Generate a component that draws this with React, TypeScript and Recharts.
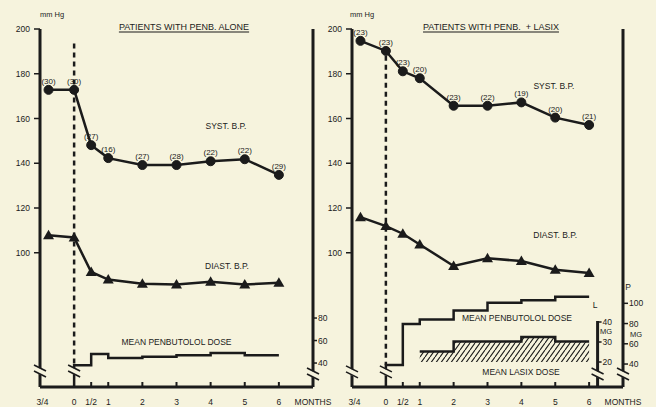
import {
  Area,
  ComposedChart,
  LabelList,
  Line,
  ReferenceDot,
  ReferenceLine,
  XAxis,
  YAxis,
} from "recharts";

const INK = "#1b1b1b";
const BG = "#f6f3dd";
const FONT = '"Liberation Sans", Arial, sans-serif';

// months; the first visit is the 3/4 month run-in before treatment
const VISITS = [-0.75, 0, 0.5, 1, 2, 3, 4, 5, 6];
const MONTH_TICKS = [-0.75, 0, 0.5, 1, 2, 3, 4, 5, 6, 7];
const BP_TICKS = [100, 120, 140, 160, 180, 200];

// penbutolol alone
const ALONE_SYST = [172.8, 172.8, 148.1, 142.3, 139.2, 139.2, 140.9, 141.8, 134.8];
const ALONE_N = [30, 30, 27, 16, 27, 28, 22, 22, 29];
const ALONE_DIAST = [107.8, 106.8, 91.4, 88, 86.1, 85.8, 87, 85.8, 86.6];
const ALONE_DOSE_MONTHS = [0, 0.5, 1, 2, 3, 4, 5, 6];
const ALONE_DOSE = [38, 48, 44.5, 45.5, 47, 49, 47, 47];

// penbutolol + lasix
const LASIX_SYST = [194.7, 190.2, 181.1, 178, 165.7, 165.7, 167.2, 160.4, 157.1];
const LASIX_N = [23, 23, 23, 20, 23, 22, 19, 20, 21];
const LASIX_DIAST = [115.9, 111.9, 108.5, 103.7, 94.1, 97.5, 96.3, 92.4, 91];
const PENB_DOSE_MONTHS = [0, 0.5, 1, 2, 3, 4, 5, 6];
const PENB_DOSE = [39, 79.6, 84, 93, 100.5, 103, 106.5, 106.5];
const LASIX_DOSE_MONTHS = [1, 2, 3, 4, 5, 6];
const LASIX_DOSE = [25.3, 30.3, 30.3, 32.5, 30.2, 30.2];

// axis scales (the dose axes are drawn in the lower part of each panel)
const BP_DOMAIN = [40, 200];
const ALONE_DOSE_DOMAIN = [18.7, 336.9];
const PENB_DOSE_DOMAIN = [17.3, 371.1];
const LASIX_DOSE_DOMAIN = [7.5, 186.5];
const LASIX_AXIS_MONTH = 6.25;

function monthLabel(v: number) {
  if (v === -0.75) return "3/4";
  if (v === 0.5) return "1/2";
  if (v === 7) return "MONTHS";
  return String(v);
}

function MonthTick({ x, y, payload }: any) {
  const v = payload.value as number;
  const dx = v === -0.75 ? -6 : 0;
  return (
    <g>
      {v > 0 && v <= 6 ? (
        <line x1={x} y1={y} x2={x} y2={y - 5} stroke={INK} strokeWidth={2} />
      ) : null}
      <text x={x + dx} y={y + 18} textAnchor="middle" fontSize={8.5} fill={INK}>
        {monthLabel(v)}
      </text>
    </g>
  );
}

function BreakMark({ cx, cy }: any) {
  if (cx == null || cy == null) return <g />;
  return (
    <g>
      <polygon
        points={`${cx - 7},${cy - 7} ${cx + 7},${cy} ${cx + 7},${cy + 6} ${cx - 7},${cy - 1}`}
        fill={BG}
      />
      <line x1={cx - 6} y1={cy - 7} x2={cx + 6} y2={cy - 1} stroke={INK} strokeWidth={1.6} />
      <line x1={cx - 6} y1={cy - 1} x2={cx + 6} y2={cy + 5} stroke={INK} strokeWidth={1.6} />
    </g>
  );
}

function Triangle({ cx, cy, index }: any) {
  if (cx == null || cy == null) return <g key={index} />;
  return (
    <path
      key={index}
      d={`M${cx},${cy - 5.5} L${cx + 5.5},${cy + 4} L${cx - 5.5},${cy + 4} Z`}
      fill={INK}
    />
  );
}

function note(text: string, size = 8.5) {
  return ({ cx, cy }: any) =>
    cx == null ? (
      <g />
    ) : (
      <text x={cx} y={cy + 3} textAnchor="middle" fontSize={size} fill={INK}>
        {text}
      </text>
    );
}

function lasixTick(value: number) {
  return ({ cx, cy }: any) =>
    cx == null ? (
      <g />
    ) : (
      <g>
        <line x1={cx} y1={cy} x2={cx + 4} y2={cy} stroke={INK} strokeWidth={1.5} />
        <text x={cx + 5} y={cy + 3} fontSize={8.5} fill={INK}>
          {value}
        </text>
      </g>
    );
}

const bpRows = (syst: number[], diast: number[], n: number[]) =>
  VISITS.map((m, i) => ({ m, syst: syst[i], diast: diast[i], n: n[i] }));

const stepRows = (months: number[], values: number[], floor: number) => [
  { m: months[0], v: floor },
  ...months.map((m, i) => ({ m, v: values[i] })),
];

const AXIS_LINE = { stroke: INK, strokeWidth: 3 };
const TICK_LINE = { stroke: INK, strokeWidth: 1.5 };
const TICK_TEXT = { fontSize: 8.5, fill: INK };

function AloneChart() {
  const rows = bpRows(ALONE_SYST, ALONE_DIAST, ALONE_N);
  const dose = stepRows(ALONE_DOSE_MONTHS, ALONE_DOSE, ALONE_DOSE_DOMAIN[0]);
  return (
    <ComposedChart width={340} height={407} margin={{ top: 29, right: 0, bottom: 0, left: 0 }}>
      <XAxis
        type="number"
        dataKey="m"
        domain={[-1, 7]}
        ticks={MONTH_TICKS}
        allowDataOverflow
        height={20}
        axisLine={AXIS_LINE}
        tickLine={false}
        tickSize={0}
        tickMargin={0}
        tick={<MonthTick />}
        interval={0}
      />
      <YAxis
        yAxisId="bp"
        domain={BP_DOMAIN}
        ticks={BP_TICKS}
        allowDataOverflow
        width={40}
        tickSize={6}
        tickMargin={4}
        tick={TICK_TEXT}
        axisLine={AXIS_LINE}
        tickLine={TICK_LINE}
      />
      <YAxis
        yAxisId="dose"
        orientation="right"
        domain={ALONE_DOSE_DOMAIN}
        ticks={[40, 60, 80]}
        allowDataOverflow
        width={27}
        tickSize={4}
        tickMargin={1}
        tick={{ ...TICK_TEXT, textAnchor: "start" }}
        axisLine={AXIS_LINE}
        tickLine={TICK_LINE}
      />
      <ReferenceLine
        yAxisId="bp"
        segment={[{ x: 0, y: 193.5 }, { x: 0, y: 50 }]}
        stroke={INK}
        strokeWidth={2.5}
        strokeDasharray="5 4"
      />
      <Line
        data={dose}
        dataKey="v"
        yAxisId="dose"
        type="stepAfter"
        stroke={INK}
        strokeWidth={2.5}
        dot={false}
        isAnimationActive={false}
      />
      <Line
        data={rows}
        dataKey="syst"
        yAxisId="bp"
        stroke={INK}
        strokeWidth={2.5}
        dot={{ r: 4.5, fill: INK, stroke: INK, strokeWidth: 1 }}
        isAnimationActive={false}
      >
        <LabelList dataKey="n" position="top" offset={6} formatter={(v: any) => `(${v})`} fontSize={8} fill={INK} />
      </Line>
      <Line
        data={rows}
        dataKey="diast"
        yAxisId="bp"
        stroke={INK}
        strokeWidth={2.5}
        dot={<Triangle />}
        isAnimationActive={false}
      />
      <ReferenceDot yAxisId="bp" x={4.45} y={156.6} r={0} shape={note("SYST. B.P.")} />
      <ReferenceDot yAxisId="bp" x={4.48} y={94.1} r={0} shape={note("DIAST. B.P.")} />
      <ReferenceDot yAxisId="bp" x={3.0} y={60.1} r={0} shape={note("MEAN PENBUTOLOL DOSE")} />
      <ReferenceDot yAxisId="bp" x={-1} y={46.7} r={0} shape={BreakMark} />
      <ReferenceDot yAxisId="bp" x={0} y={46.7} r={0} shape={BreakMark} />
      <ReferenceDot yAxisId="bp" x={7} y={45.4} r={0} shape={BreakMark} />
    </ComposedChart>
  );
}

function LasixChart() {
  const rows = bpRows(LASIX_SYST, LASIX_DIAST, LASIX_N);
  const penb = stepRows(PENB_DOSE_MONTHS, PENB_DOSE, PENB_DOSE_DOMAIN[0]);
  const lasix = LASIX_DOSE_MONTHS.map((m, i) => ({ m, v: LASIX_DOSE[i] }));
  return (
    <ComposedChart width={336} height={407} margin={{ top: 29, right: 0, bottom: 0, left: 0 }}>
      <defs>
        <pattern id="lasixHatch" patternUnits="userSpaceOnUse" width={5} height={7}>
          <path d="M0,7 L5,0 M-1,1 L0,0 M5,7 L6,6" stroke={INK} strokeWidth={1.1} />
        </pattern>
      </defs>
      <XAxis
        type="number"
        dataKey="m"
        domain={[-1, 7]}
        ticks={MONTH_TICKS}
        allowDataOverflow
        height={20}
        axisLine={AXIS_LINE}
        tickLine={false}
        tickSize={0}
        tickMargin={0}
        tick={<MonthTick />}
        interval={0}
      />
      <YAxis
        yAxisId="bp"
        domain={BP_DOMAIN}
        ticks={BP_TICKS}
        allowDataOverflow
        width={32}
        tickSize={6}
        tickMargin={4}
        tick={TICK_TEXT}
        axisLine={AXIS_LINE}
        tickLine={TICK_LINE}
      />
      <YAxis
        yAxisId="penb"
        orientation="right"
        domain={PENB_DOSE_DOMAIN}
        ticks={[40, 60, 80, 100]}
        allowDataOverflow
        width={33}
        tickSize={5}
        tickMargin={1}
        tick={{ ...TICK_TEXT, textAnchor: "start" }}
        axisLine={AXIS_LINE}
        tickLine={TICK_LINE}
      />
      <YAxis yAxisId="lasix" hide domain={LASIX_DOSE_DOMAIN} allowDataOverflow />
      <Area
        data={lasix}
        dataKey="v"
        yAxisId="lasix"
        type="stepAfter"
        baseValue={20}
        fill="url(#lasixHatch)"
        fillOpacity={1}
        stroke={INK}
        strokeWidth={2.5}
        dot={false}
        activeDot={false}
        isAnimationActive={false}
      />
      <ReferenceLine
        yAxisId="bp"
        segment={[{ x: 0, y: 188 }, { x: 0, y: 50 }]}
        stroke={INK}
        strokeWidth={2.5}
        strokeDasharray="5 4"
      />
      <ReferenceLine
        yAxisId="lasix"
        segment={[{ x: LASIX_AXIS_MONTH, y: LASIX_DOSE_DOMAIN[0] }, { x: LASIX_AXIS_MONTH, y: 40.5 }]}
        stroke={INK}
        strokeWidth={3}
      />
      {[20, 30, 40].map((t) => (
        <ReferenceDot key={t} yAxisId="lasix" x={LASIX_AXIS_MONTH} y={t} r={0} shape={lasixTick(t)} />
      ))}
      <Line
        data={penb}
        dataKey="v"
        yAxisId="penb"
        type="stepAfter"
        stroke={INK}
        strokeWidth={2.5}
        dot={false}
        isAnimationActive={false}
      />
      <Line
        data={rows}
        dataKey="syst"
        yAxisId="bp"
        stroke={INK}
        strokeWidth={2.5}
        dot={{ r: 4.5, fill: INK, stroke: INK, strokeWidth: 1 }}
        isAnimationActive={false}
      >
        <LabelList dataKey="n" position="top" offset={6} formatter={(v: any) => `(${v})`} fontSize={8} fill={INK} />
      </Line>
      <Line
        data={rows}
        dataKey="diast"
        yAxisId="bp"
        stroke={INK}
        strokeWidth={2.5}
        dot={<Triangle />}
        isAnimationActive={false}
      />
      <ReferenceDot yAxisId="bp" x={4.96} y={174.5} r={0} shape={note("SYST. B.P.")} />
      <ReferenceDot yAxisId="bp" x={5.0} y={107.9} r={0} shape={note("DIAST. B.P.")} />
      <ReferenceDot yAxisId="bp" x={3.87} y={70.8} r={0} shape={note("MEAN PENBUTOLOL DOSE")} />
      <ReferenceDot yAxisId="bp" x={3.99} y={46.7} r={0} shape={note("MEAN LASIX DOSE")} />
      <ReferenceDot yAxisId="bp" x={-1} y={46.3} r={0} shape={BreakMark} />
      <ReferenceDot yAxisId="bp" x={0} y={46.3} r={0} shape={BreakMark} />
      <ReferenceDot yAxisId="bp" x={LASIX_AXIS_MONTH} y={45.4} r={0} shape={BreakMark} />
      <ReferenceDot yAxisId="bp" x={7} y={45.4} r={0} shape={BreakMark} />
    </ComposedChart>
  );
}

const textAt = (left: number, top: number, size = 8.5): React.CSSProperties => ({
  position: "absolute",
  left,
  top,
  fontSize: size,
  lineHeight: 1,
  color: INK,
  whiteSpace: "nowrap",
  transform: "translate(-50%, -50%)",
});

export default function App() {
  return (
    <div
      style={{
        position: "absolute",
        left: 0,
        top: 0,
        width: 656,
        height: 407,
        background: BG,
        fontFamily: FONT,
        overflow: "hidden",
      }}
    >
      <div style={{ position: "absolute", left: 0, top: 0 }}>
        <AloneChart />
      </div>
      <div style={{ position: "absolute", left: 320, top: 0 }}>
        <LasixChart />
      </div>
      <div style={textAt(52, 15, 7.5)}>mm Hg</div>
      <div style={textAt(362, 15, 7.5)}>mm Hg</div>
      <div style={{ ...textAt(184, 27, 9), textDecoration: "underline", textUnderlineOffset: 2 }}>
        PATIENTS WITH PENB. ALONE
      </div>
      <div style={{ ...textAt(491, 27, 9), textDecoration: "underline", textUnderlineOffset: 2 }}>
        PATIENTS WITH PENB.&nbsp;&nbsp;+ LASIX
      </div>
      <div style={textAt(628, 287)}>P</div>
      <div style={textAt(636, 334.5, 7.5)}>MG</div>
      <div style={textAt(595, 305)}>L</div>
      <div style={textAt(606, 332, 7.5)}>MG</div>
    </div>
  );
}
